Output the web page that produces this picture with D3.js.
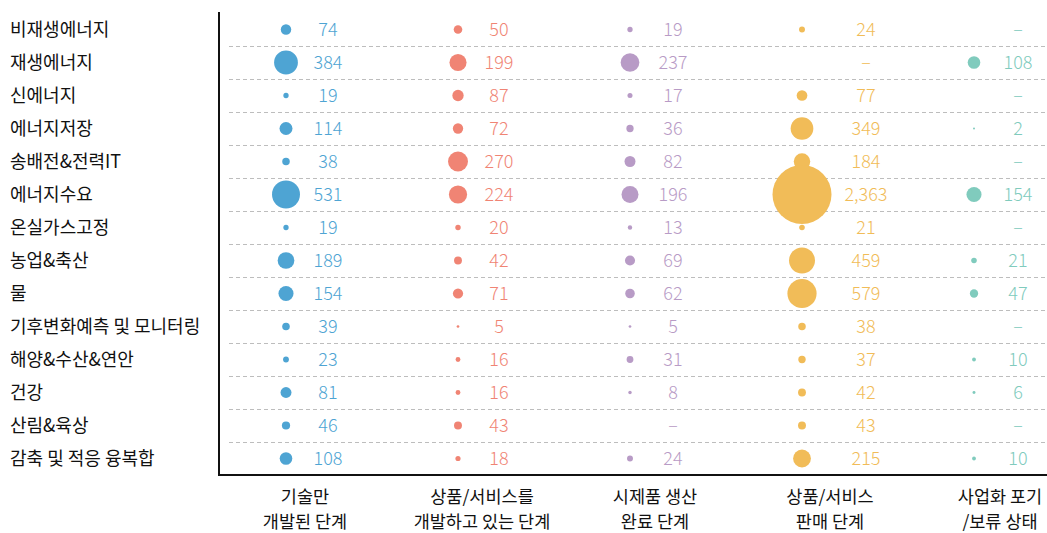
<!DOCTYPE html>
<html>
<head>
<meta charset="utf-8">
<script src="https://cdn.jsdelivr.net/npm/d3@7"></script>
<style>
  body { margin: 0; background: #fff; }
  text { font-family: "Noto Sans CJK KR", "Noto Sans", sans-serif; }
</style>
</head>
<body>
<div id="chart"></div>
<script>
// rows = fields, columns = commercialisation stage, null = "–"
const fields = ['비재생에너지', '재생에너지', '신에너지', '에너지저장', '송배전&전력IT', '에너지수요',
  '온실가스고정', '농업&축산', '물', '기후변화예측 및 모니터링', '해양&수산&연안', '건강', '산림&육상', '감축 및 적응 융복합']
const stages = [['기술만', '개발된 단계'], ['상품/서비스를', '개발하고 있는 단계'], ['시제품 생산', '완료 단계'],
  ['상품/서비스', '판매 단계'], ['사업화 포기', '/보류 상태']]
const techOnly   = [74, 384, 19, 114, 38, 531, 19, 189, 154, 39, 23, 81, 46, 108]
const developing = [50, 199, 87, 72, 270, 224, 20, 42, 71, 5, 16, 16, 43, 18]
const prototype  = [19, 237, 17, 36, 82, 196, 13, 69, 62, 5, 31, 8, null, 24]
const selling    = [24, null, 77, 349, 184, 2363, 21, 459, 579, 38, 37, 42, 43, 215]
const abandoned  = [null, 108, null, 2, null, 154, null, 21, 47, null, 10, 6, null, 10]
const series = [techOnly, developing, prototype, selling, abandoned]
const colors = ['#4ea4d3', '#f08474', '#b89bc6', '#f1bc58', '#80cbbd']

const width = 1047, height = 533
const svg = d3.select("#chart").append("svg")
  .attr("width", width)
  .attr("height", height)

const axisX = 219, plotTop = 12, plotBottom = 475

const y = d3.scaleBand()
  .domain(fields)
  .range([plotTop + 1, plotBottom - 0])

// circle and label offsets inside a column (big circle in 4th column pushes label)
const dotX = [286, 458, 630, 802, 974]
const numX = [328, 499, 673, 866, 1018]
const headX = [305, 482, 655, 830, 1000]

const r = d3.scaleSqrt().domain([0, 2363]).range([0, 29.5])

// dashed separators
svg.append("g")
  .selectAll("line")
  .data(fields.slice(1))
  .join("line")
  .attr("x1", 229)
  .attr("x2", width)
  .attr("y1", d => Math.round(y(d)) + 0.5)
  .attr("y2", d => Math.round(y(d)) + 0.5)
  .attr("stroke", "#bdbdbd")
  .attr("stroke-dasharray", "4,3")

// row labels
svg.append("g")
  .selectAll("text")
  .data(fields)
  .join("text")
  .attr("x", 10)
  .attr("y", d => y(d) + y.bandwidth() / 2)
  .attr("dy", "0.36em")
  .attr("font-size", 18)
  .attr("fill", "#111")
  .text(d => d)

// cells
series.forEach((vals, i) => {
  const g = svg.append("g")
  const cells = vals.map((v, j) => ({ v: v, f: fields[j] }))

  g.selectAll("circle")
    .data(cells.filter(d => d.v !== null))
    .join("circle")
    .attr("cx", dotX[i])
    .attr("cy", d => y(d.f) + y.bandwidth() / 2)
    .attr("r", d => Math.max(r(d.v), 1))
    .attr("fill", colors[i])

  g.selectAll("text")
    .data(cells)
    .join("text")
    .attr("x", numX[i])
    .attr("y", d => y(d.f) + y.bandwidth() / 2)
    .attr("dy", "0.36em")
    .attr("text-anchor", "middle")
    .attr("font-size", 18)
    .attr("font-weight", 300)
    .attr("fill", colors[i])
    .text(d => d.v === null ? "–" : d3.format(",")(d.v))
})

// axis lines
svg.append("line")
  .attr("x1", axisX).attr("x2", axisX)
  .attr("y1", plotTop).attr("y2", plotBottom)
  .attr("stroke", "#111").attr("stroke-width", 2)
svg.append("line")
  .attr("x1", axisX - 1).attr("x2", width)
  .attr("y1", plotBottom).attr("y2", plotBottom)
  .attr("stroke", "#111").attr("stroke-width", 2)

// column headers
const heads = svg.append("g")
  .selectAll("text")
  .data(stages)
  .join("text")
  .attr("x", (d, i) => headX[i])
  .attr("y", 503)
  .attr("text-anchor", "middle")
  .attr("font-size", 17.5)
  .attr("fill", "#111")
heads.selectAll("tspan")
  .data(d => d)
  .join("tspan")
  .attr("x", function () { return d3.select(this.parentNode).attr("x") })
  .attr("dy", (d, k) => k === 0 ? 0 : 25)
  .text(d => d)
</script>
</body>
</html>
